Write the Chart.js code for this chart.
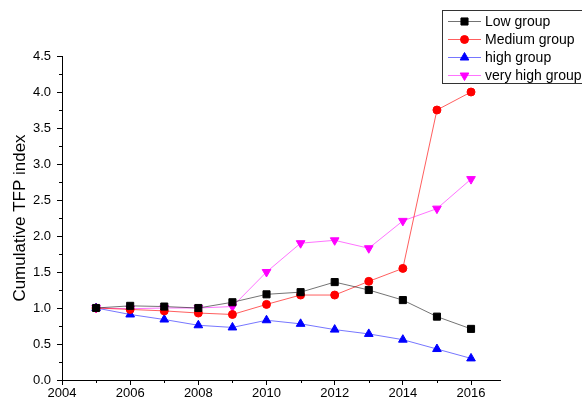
<!DOCTYPE html>
<html>
<head>
<meta charset="utf-8">
<script src="https://cdn.jsdelivr.net/npm/chart.js@4/dist/chart.umd.min.js"></script>
<style>
  html, body { margin: 0; padding: 0; background: #fff; }
  #wrap { width: 582px; height: 403px; position: relative; }
</style>
</head>
<body>
<div id="wrap"><canvas id="tfpChart"></canvas></div>
<script>
// データ
const years = [2005, 2006, 2007, 2008, 2009, 2010, 2011, 2012, 2013, 2014, 2015, 2016];
const lowGroup = [1.00, 1.03, 1.02, 1.00, 1.08, 1.19, 1.22, 1.36, 1.25, 1.11, 0.88, 0.71];
const mediumGroup = [1.00, 0.98, 0.96, 0.93, 0.91, 1.05, 1.18, 1.18, 1.37, 1.55, 3.75, 4.00];
const highGroup = [1.00, 0.91, 0.84, 0.76, 0.73, 0.83, 0.78, 0.70, 0.64, 0.56, 0.43, 0.30];
const veryHighGroup = [1.00, 0.99, 1.00, 1.00, 1.02, 1.50, 1.90, 1.94, 1.83, 2.21, 2.38, 2.79];
const seriesNames = ['Low group', 'Medium group', 'high group', 'very high group'];

const FONT = 'Liberation Sans, Arial, sans-serif';

function toPoints(values) {
    return years.map((y, i) => ({ x: y, y: values[i] }));
}

function makeSet(label, values, color, lineColor, style, radius, rotation) {
    return {
        label: label,
        data: toPoints(values),
        borderColor: lineColor,
        borderWidth: 1,
        pointBackgroundColor: color,
        pointBorderColor: color,
        pointBorderWidth: 1,
        pointStyle: style,
        pointRadius: radius,
        pointRotation: rotation || 0,
        tension: 0
    };
}

// 副目盛り
const minorTicks = {
    id: 'minorTicks',
    afterDraw(chart) {
        const ctx = chart.ctx;
        const xs = chart.scales.x, ys = chart.scales.y;
        ctx.save();
        ctx.strokeStyle = '#000';
        ctx.lineWidth = 1;
        ctx.beginPath();
        for (let v = 0.25; v < 4.5; v += 0.5) {
            const py = Math.round(ys.getPixelForValue(v)) + 0.5;
            ctx.moveTo(xs.left - 3, py);
            ctx.lineTo(xs.left, py);
        }
        for (let v = 2005; v <= 2016; v += 2) {
            const px = Math.round(xs.getPixelForValue(v)) + 0.5;
            ctx.moveTo(px, ys.bottom);
            ctx.lineTo(px, ys.bottom + 3);
        }
        ctx.stroke();
        ctx.restore();
    }
};

// 凡例（枠付き）
const boxLegend = {
    id: 'boxLegend',
    afterDraw(chart) {
        const ctx = chart.ctx;
        ctx.save();
        ctx.strokeStyle = '#333';
        ctx.lineWidth = 1;
        ctx.strokeRect(442.5, 10.5, 150, 73);
        ctx.font = '14px ' + FONT;
        ctx.textBaseline = 'middle';
        chart.data.datasets.forEach((ds, i) => {
            const y = 21 + i * 18;
            ctx.strokeStyle = ds.borderColor;
            ctx.beginPath();
            ctx.moveTo(448, y + 0.5);
            ctx.lineTo(481, y + 0.5);
            ctx.stroke();
            ctx.fillStyle = ds.pointBackgroundColor;
            ctx.strokeStyle = ds.pointBorderColor;
            Chart.helpers.drawPoint(ctx, {
                pointStyle: ds.pointStyle,
                radius: ds.pointRadius,
                rotation: ds.pointRotation,
                borderWidth: 1
            }, 464.5, y + 0.5);
            ctx.fillStyle = '#000';
            ctx.fillText(ds.label, 485, y + 1);
        });
        ctx.restore();
    }
};

const ctx = document.getElementById('tfpChart').getContext('2d');
new Chart(ctx, {
    type: 'line',
    data: {
        datasets: [
            makeSet(seriesNames[0], lowGroup, '#000000', 'rgba(0,0,0,0.55)', 'rect', 5),
            makeSet(seriesNames[1], mediumGroup, '#ff0000', 'rgba(255,40,40,0.75)', 'circle', 4),
            makeSet(seriesNames[2], highGroup, '#0000ff', 'rgba(60,60,255,0.7)', 'triangle', 5),
            makeSet(seriesNames[3], veryHighGroup, '#ff00ff', 'rgba(255,80,255,0.8)', 'triangle', 5, 180)
        ]
    },
    options: {
        responsive: true,
        maintainAspectRatio: false,
        animation: false,
        layout: { padding: { left: 10, top: 56, right: 82, bottom: 0 } },
        plugins: {
            legend: { display: false },
            tooltip: { enabled: false }
        },
        scales: {
            x: {
                type: 'linear',
                min: 2004,
                max: 2016.85,
                border: { color: '#000', width: 1 },
                grid: { drawOnChartArea: false, color: '#000', tickLength: 5 },
                ticks: {
                    stepSize: 2,
                    includeBounds: false,
                    color: '#000',
                    padding: 1,
                    maxRotation: 0,
                    font: { family: FONT, size: 13 },
                    callback: v => String(v)
                },
                afterFit: s => { s.height = 23; }
            },
            y: {
                min: 0,
                max: 4.5,
                border: { color: '#000', width: 1 },
                grid: { drawOnChartArea: false, color: '#000', tickLength: 5 },
                ticks: {
                    stepSize: 0.5,
                    color: '#000',
                    padding: 6,
                    font: { family: FONT, size: 13 },
                    callback: v => v.toFixed(1)
                },
                title: {
                    display: true,
                    text: 'Cumulative TFP index',
                    color: '#000',
                    padding: { top: 0, bottom: 0 },
                    font: { family: FONT, size: 17 }
                },
                afterFit: s => { s.width = 52; }
            }
        }
    },
    plugins: [minorTicks, boxLegend]
});
</script>
</body>
</html>
